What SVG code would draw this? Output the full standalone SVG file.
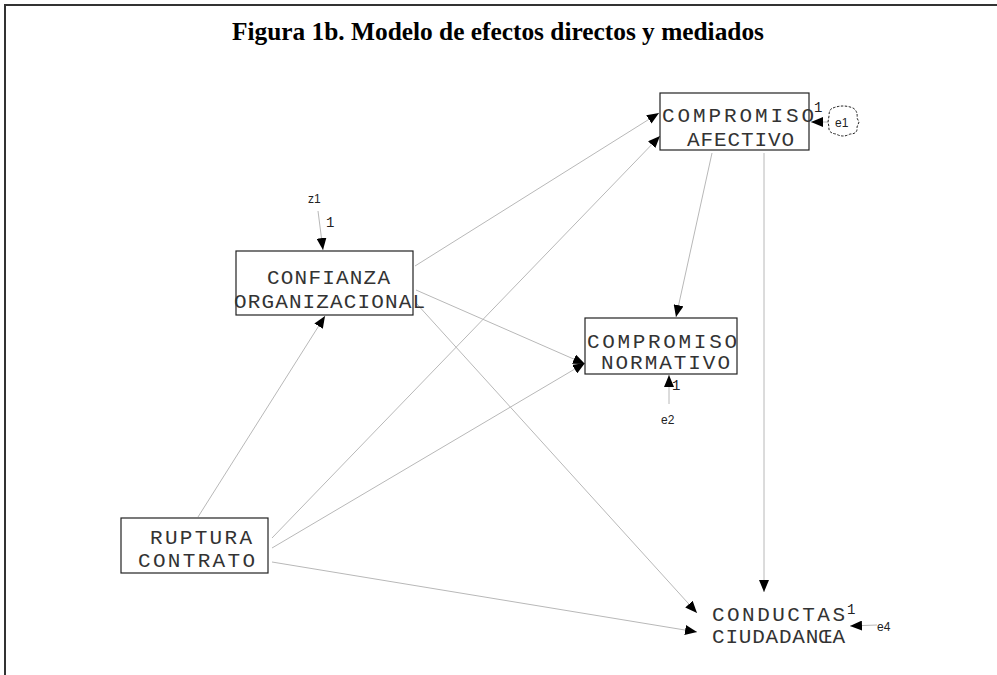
<svg xmlns="http://www.w3.org/2000/svg" width="997" height="675" viewBox="0 0 997 675">
<style>
.frame{fill:none;stroke:#333;stroke-width:2}
.box{fill:#fff;stroke:#222;stroke-width:1.2}
.lbl{font-family:"Liberation Mono",monospace;font-size:21px;fill:#333}
.sm{font-family:"Liberation Sans",sans-serif;font-size:12px;fill:#222}
.one{font-family:"Liberation Mono",monospace;font-size:14px;fill:#222}
.title{font-family:"Liberation Serif",serif;font-weight:bold;font-size:26px;fill:#000}
.c{stroke:#b8b8b8;stroke-width:1;fill:none;marker-end:url(#ah)}
</style>
<defs>
<marker id="ah" markerUnits="userSpaceOnUse" markerWidth="12" markerHeight="10" viewBox="0 0 12 10" refX="12" refY="5" orient="auto">
<path d="M0,0 L12,5 L0,10 Z" fill="#000"/>
</marker>
</defs>
<rect width="997" height="675" fill="#fff"/>
<path class="frame" d="M5,676 L5,5 L998,5"/>
<text class="title" x="498" y="40" text-anchor="middle" textLength="532" lengthAdjust="spacingAndGlyphs">Figura 1b. Modelo de efectos directos y mediados</text>

<g id="connectors">
<line class="c" x1="198" y1="517" x2="325" y2="316"/>
<line class="c" x1="272" y1="538" x2="660" y2="136"/>
<line class="c" x1="272" y1="548" x2="585" y2="363"/>
<line class="c" x1="272" y1="562" x2="697" y2="632"/>
<line class="c" x1="415" y1="266" x2="659" y2="113"/>
<line class="c" x1="416" y1="290" x2="585" y2="364"/>
<line class="c" x1="416" y1="303" x2="697" y2="613"/>
<line class="c" x1="712" y1="153" x2="676" y2="317"/>
<line class="c" x1="764" y1="153" x2="764" y2="592"/>
<line class="c" x1="318" y1="211" x2="323" y2="250"/>
<line class="c" x1="669" y1="404" x2="669" y2="375"/>
<line class="c" x1="829" y1="122" x2="811" y2="122"/>
<line class="c" x1="877" y1="625" x2="850" y2="626"/>
</g>

<g id="afectivo">
<rect class="box" x="660" y="93" width="149" height="57"/>
<text class="lbl" x="662" y="122" textLength="152" lengthAdjust="spacing">COMPROMISO</text>
<text class="lbl" x="687" y="146" textLength="107" lengthAdjust="spacing">AFECTIVO</text>
<text class="one" x="814" y="112">1</text>
</g>

<g id="e1">
<path d="M833,108 Q843,104 853,108 Q858,111 857,118 L859,122 L857,127 Q858,134 850,134 Q843,138 836,134 Q828,133 829,127 L828,122 L829,116 Q829,109 833,108 Z" fill="#fff" stroke="#222" stroke-width="1" stroke-dasharray="2.5,1.5"/>
<text class="sm" x="835" y="127">e1</text>
</g>

<g id="confianza">
<rect class="box" x="236" y="251" width="177" height="64"/>
<text class="lbl" x="267" y="284" textLength="123" lengthAdjust="spacing">CONFIANZA</text>
<text class="lbl" x="234" y="308" textLength="191" lengthAdjust="spacing">ORGANIZACIONAL</text>
</g>

<g id="z1">
<text class="sm" x="308" y="203">z1</text>
<text class="one" x="326" y="227">1</text>
</g>

<g id="normativo">
<rect class="box" x="585" y="318" width="152" height="56"/>
<text class="lbl" x="587" y="348" textLength="150" lengthAdjust="spacing">COMPROMISO</text>
<text class="lbl" x="601" y="369" textLength="129" lengthAdjust="spacing">NORMATIVO</text>
<text class="one" x="672" y="390">1</text>
</g>

<g id="e2">
<text class="sm" x="661" y="424">e2</text>
</g>

<g id="ruptura">
<rect class="box" x="121" y="518" width="147" height="55"/>
<text class="lbl" x="150" y="544" textLength="102" lengthAdjust="spacing">RUPTURA</text>
<text class="lbl" x="138" y="567" textLength="117" lengthAdjust="spacing">CONTRATO</text>
</g>

<g id="conductas">
<text class="lbl" x="712" y="621" textLength="133" lengthAdjust="spacing">CONDUCTAS</text>
<text class="lbl" x="712" y="643" textLength="133" lengthAdjust="spacing">CIUDADANŒA</text>
<text class="one" x="847" y="614">1</text>
</g>

<g id="e4">
<text class="sm" x="877" y="631">e4</text>
</g>
</svg>
